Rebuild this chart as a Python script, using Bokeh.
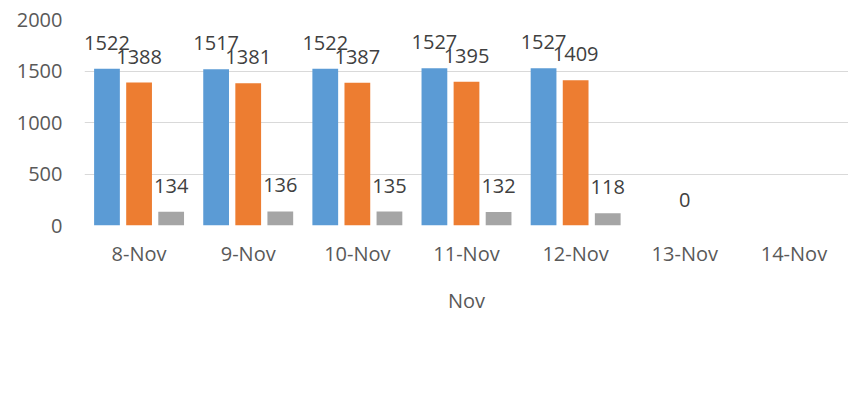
from bokeh.plotting import figure
from bokeh.models import (Range1d, ColumnDataSource, Legend, LegendItem, FixedTicker)
from bokeh.transform import dodge
from bokeh.core.properties import value
from bokeh.embed import file_html
from bokeh.resources import INLINE

# ---------------- data ----------------
dates = ["8-Nov", "9-Nov", "10-Nov", "11-Nov", "12-Nov", "13-Nov", "14-Nov"]
month_label = "Nov"
capacity = [1522, 1517, 1522, 1527, 1527, None, None]
usage = [1388, 1381, 1387, 1395, 1409, 0, None]
availability = [134, 136, 135, 132, 118, None, None]
series_names = ["Sum of Med/Surg Bed Capacity", "Sum of Med/Surg Usage",
                "Sum of Med/Surg Bed Availablity"]
y_ticks = [0, 500, 1000, 1500, 2000]

# ---------------- style ----------------
colors = ["#5B9BD5", "#ED7D31", "#A5A5A5"]
offsets = [-0.294, 0.0, 0.294]
bar_width = 0.236
FONT = "Open Sans"
AXIS_COLOR = "#595959"
LABEL_COLOR = "#404040"
GRID_COLOR = "#D9D9D9"

# category slots: each date occupies one unit, centred at i + 0.5
centers = [i + 0.5 for i in range(len(dates))]

p = figure(x_range=Range1d(0, len(dates)), y_range=Range1d(0, 2000),
           frame_width=764, frame_height=206,
           output_backend="svg", toolbar_location=None,
           min_border_left=84, min_border_right=0, min_border_top=19,
           min_border_bottom=0)
p.outline_line_color = None
p.background_fill_color = "white"
p.border_fill_color = "white"

renderers = []
for name, vals, col, off in zip(series_names, [capacity, usage, availability], colors, offsets):
    tops = [float("nan") if v is None else v for v in vals]
    src = ColumnDataSource(dict(x=centers, top=tops))
    r = p.vbar(x=dodge("x", off), top="top", width=bar_width,
               source=src, fill_color=col, line_color=None)
    renderers.append(r)
    lx = [c for c, v in zip(centers, vals) if v is not None]
    ly = [v for v in vals if v is not None]
    lt = [str(v) for v in vals if v is not None]
    lsrc = ColumnDataSource(dict(x=lx, y=ly, t=lt))
    p.text(x=dodge("x", off), y="y", text="t", source=lsrc,
           text_align="center", text_baseline="bottom", y_offset=-19,
           text_font=value(FONT), text_font_size="20px", text_color=LABEL_COLOR)

# grid
p.xgrid.grid_line_color = None
p.ygrid.grid_line_color = GRID_COLOR
p.ygrid.grid_line_width = 1
p.ygrid.ticker = FixedTicker(ticks=y_ticks)

# y axis
p.yaxis.ticker = FixedTicker(ticks=y_ticks)
p.yaxis.axis_line_color = None
p.yaxis.major_tick_line_color = None
p.yaxis.minor_tick_line_color = None
p.yaxis.major_tick_out = 0
p.yaxis.major_label_standoff = 22
p.yaxis.major_label_text_font = FONT
p.yaxis.major_label_text_font_size = "20px"
p.yaxis.major_label_text_color = AXIS_COLOR

# category axis
xaxis = p.xaxis[0]
xaxis.ticker = FixedTicker(ticks=centers)
xaxis.major_label_overrides = {c: d for c, d in zip(centers, dates)}
xaxis.axis_line_color = None
xaxis.major_tick_line_color = None
xaxis.minor_tick_line_color = None
xaxis.major_tick_out = 0
xaxis.major_tick_in = 0
xaxis.minor_tick_out = 0
xaxis.minor_tick_in = 0
xaxis.major_label_standoff = 14
xaxis.major_label_text_font = FONT
xaxis.major_label_text_font_size = "20px"
xaxis.major_label_text_color = AXIS_COLOR
xaxis.axis_label = month_label
xaxis.axis_label_standoff = 17
xaxis.axis_label_text_font = FONT
xaxis.axis_label_text_font_size = "20px"
xaxis.axis_label_text_font_style = "normal"
xaxis.axis_label_text_color = AXIS_COLOR

# legend
leg = Legend(items=[LegendItem(label=n, renderers=[r]) for n, r in zip(series_names, renderers)],
             orientation="horizontal", ncols=2, spacing=19, location="top_left",
             glyph_width=10, glyph_height=10, label_standoff=8, padding=0, margin=12,
             title=" ", title_location="left", title_text_font_size="1px",
             title_standoff=7,
             border_line_color=None, background_fill_alpha=0,
             label_text_font=FONT, label_text_font_size="21px",
             label_text_color=AXIS_COLOR)
p.add_layout(leg, "below")

open("out.html", "w").write(file_html(p, INLINE))
